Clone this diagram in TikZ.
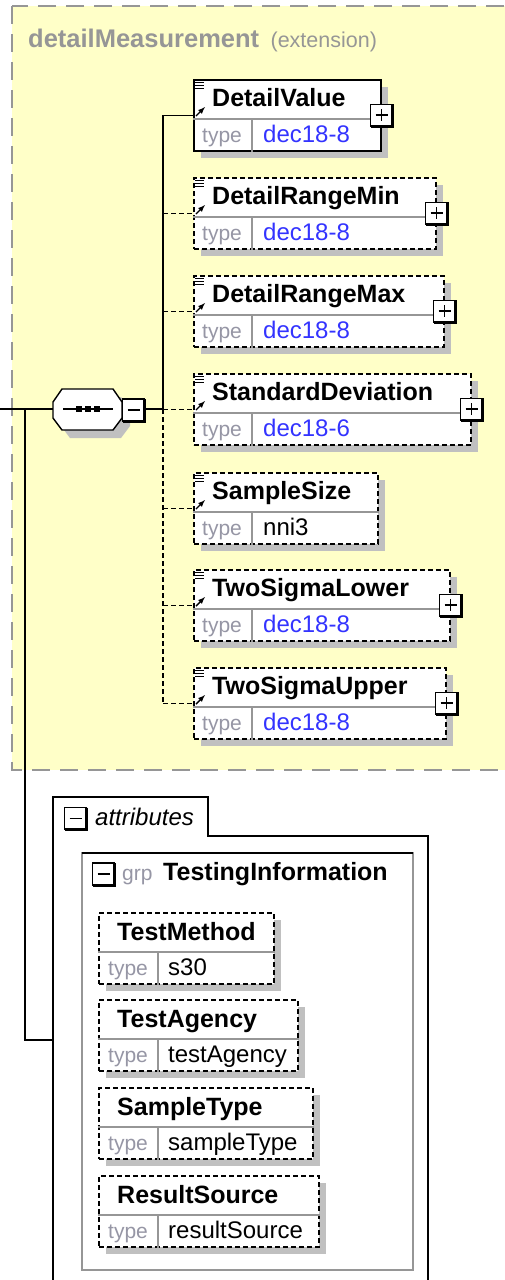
\documentclass[tikz,border=0pt]{standalone}
\usepackage{fontspec}
\setmainfont{Liberation Sans}
\usepackage{tikz}
\usetikzlibrary{arrows}
\definecolor{xsdyellow}{RGB}{255,255,200}
\definecolor{xsdgray}{RGB}{150,150,150}
\definecolor{xsdshadow}{RGB}{192,192,192}
\definecolor{xsdblue}{RGB}{51,51,255}
\definecolor{xsdlabel}{RGB}{150,150,165}
\tikzset{
  link/.style={line width=1.4pt},
  opt/.style={dash pattern=on 5pt off 3pt},
  elembox/.style={draw, fill=white, line width=1.5pt, minimum height=71pt,
    inner sep=0pt, anchor=north west},
  sepline/.style={draw=xsdgray, line width=1.2pt},
  namelbl/.style={font=\bfseries\fontsize{25}{30}\selectfont, anchor=base west, inner sep=0pt},
  typelbl/.style={font=\fontsize{21}{25}\selectfont, text=xsdlabel, anchor=base west, inner sep=0pt},
  vallbl/.style={font=\fontsize{24}{28}\selectfont, anchor=base west, inner sep=0pt}
}
\tikzset{
  refmark/.pic={
    \foreach \y in {3,6,9} {
      \draw[line width=1pt] (2,\y) -- (11,\y);
    }
    \draw[line width=1.4pt, ->, >=latex] (3,37) -- (12,28);
  },
  plusbox/.pic={
    \fill[white] (-11,-11) rectangle (11,11);
    \draw[line width=1.4pt] (-11,-11) rectangle (11,11);
    \draw[line width=3pt] (11,-11) -- (11,11) -- (-11,11);
    \draw[line width=1.8pt] (-6,0) -- (6,0) (0,-6) -- (0,6);
  },
  minusbox/.pic={
    \fill[white] (-11,-11) rectangle (11,11);
    \draw[line width=1.4pt] (-11,-11) rectangle (11,11);
    \draw[line width=3pt] (11,-11) -- (11,11) -- (-11,11);
    \draw[line width=1.8pt] (-6,0) -- (6,0);
  },
  seqshape/.pic={
    \fill[xsdshadow, shift={(8,8)}] (-35,-7) -- (-26,-20) -- (25,-20) -- (34,-7) -- (34,9)
      -- (25,21) -- (-26,21) -- (-35,9) -- cycle;
    \filldraw[fill=white, line width=1.4pt] (-35,-7) -- (-26,-20) -- (25,-20) -- (34,-7) -- (34,9)
      -- (25,21) -- (-26,21) -- (-35,9) -- cycle;
    \draw[line width=1.4pt] (-25,0) -- (25,0);
    \foreach \i in {0,1,2} {
      \fill (-12+9*\i,-3) rectangle ++(6,6);
    }
  }
}
\begin{document}
\begin{tikzpicture}[x=1pt, y=-1pt]
  \useasboundingbox (0,0) rectangle (504,1280);
  \fill[white] (0,0) rectangle (504,1280);

  \draw[xsdgray, fill=xsdyellow, line width=1.5pt, dash pattern=on 18pt off 10pt]
    (12,6) rectangle (530,770);
  \node[font=\bfseries\fontsize{25.5}{30}\selectfont, text=xsdgray, anchor=base west, inner sep=0pt]
    (title) at (28,47) {detailMeasurement};
  \node[font=\fontsize{21.5}{26}\selectfont, text=xsdgray, anchor=base west, inner sep=0pt]
    (ext) at ([xshift=11pt]title.base east) {(extension)};

  \foreach \nm/\ytop/\bw/\typ/\col/\bd/\hasplus in {
      DetailValue/79/187/dec18-8/xsdblue/solid/1,
      DetailRangeMin/177/242/dec18-8/xsdblue/opt/1,
      DetailRangeMax/275/250/dec18-8/xsdblue/opt/1,
      StandardDeviation/373/277/dec18-6/xsdblue/opt/1,
      SampleSize/472/184/nni3/black/opt/0,
      TwoSigmaLower/569/256/dec18-8/xsdblue/opt/1,
      TwoSigmaUpper/667/252/dec18-8/xsdblue/opt/1} {
    \fill[xsdshadow] (201,\ytop+8) rectangle ++(\bw,71);
    \node[elembox, \bd, minimum width=\bw pt] (\nm) at (193,\ytop) {};
    \draw[sepline] ([yshift=-40pt]\nm.north west) -- ([yshift=-40pt]\nm.north east);
    \draw[sepline] ([xshift=59pt,yshift=-40pt]\nm.north west) -- ([xshift=59pt]\nm.south west);
    \node[namelbl] (\nm-n) at ([xshift=19pt,yshift=-27pt]\nm.north west) {\nm};
    \node[typelbl] (\nm-t) at ([xshift=9pt,yshift=-63pt]\nm.north west) {type};
    \node[vallbl, text=\col] (\nm-v) at ([xshift=70pt,yshift=-63pt]\nm.north west) {\typ};
    \pic at (\nm.north west) {refmark};
    \ifnum\hasplus=1 \pic at (\nm.east) {plusbox}; \fi
  }

  \coordinate (in) at (0,409);
  \coordinate (split) at (25,409);
  \coordinate (bus) at (163,409);
  \coordinate (attrin) at (53,1040);
  \draw[link] (in) -- (bus);
  \draw[link] (split) |- (attrin);
  \draw[link] (bus) -- (bus |- DetailValue.west) -- (DetailValue.west);
  \draw[link, opt] (bus) -- (bus |- TwoSigmaUpper.west);
  \foreach \nm in {DetailRangeMin,DetailRangeMax,StandardDeviation,SampleSize,TwoSigmaLower,TwoSigmaUpper} {
    \draw[link, opt] (bus |- \nm.west) -- (\nm.west);
  }

  \node[minimum width=69pt, minimum height=41pt, inner sep=0pt] (seq) at (88,409) {};
  \pic at (seq.center) {seqshape};
  \pic at (133.5,410) {minusbox};

  \draw[line width=1.5pt] (53,1290) -- (53,797) -- (208,797) -- (208,836) -- (428,836) -- (428,1290);
  \pic at (75.5,818.5) {minusbox};
  \node[font=\itshape\fontsize{24}{28}\selectfont, anchor=base west, inner sep=0pt]
    (attrlbl) at (95,825) {attributes};

  \draw[xsdgray, line width=2pt] (82,853) rectangle (413,1270);
  \draw[line width=1.5pt] (82,853) -- (413,853);
  \pic at (103.5,874) {minusbox};
  \node[typelbl] (grp) at (122,880) {grp};
  \node[namelbl] (grpname) at (163,880) {TestingInformation};

  \foreach \nm/\ytop/\bw/\typ in {
      TestMethod/912/175/s30,
      TestAgency/999/199/testAgency,
      SampleType/1087/214/sampleType,
      ResultSource/1175/220/resultSource} {
    \fill[xsdshadow] (106,\ytop+8) rectangle ++(\bw,71);
    \node[elembox, opt, minimum width=\bw pt] (\nm) at (98,\ytop) {};
    \draw[sepline] ([yshift=-40pt]\nm.north west) -- ([yshift=-40pt]\nm.north east);
    \draw[sepline] ([xshift=60pt,yshift=-40pt]\nm.north west) -- ([xshift=60pt]\nm.south west);
    \node[namelbl] (\nm-n) at ([xshift=19pt,yshift=-28pt]\nm.north west) {\nm};
    \node[typelbl] (\nm-t) at ([xshift=10pt,yshift=-63pt]\nm.north west) {type};
    \node[vallbl] (\nm-v) at ([xshift=70pt,yshift=-63pt]\nm.north west) {\typ};
  }
\end{tikzpicture}
\end{document}
